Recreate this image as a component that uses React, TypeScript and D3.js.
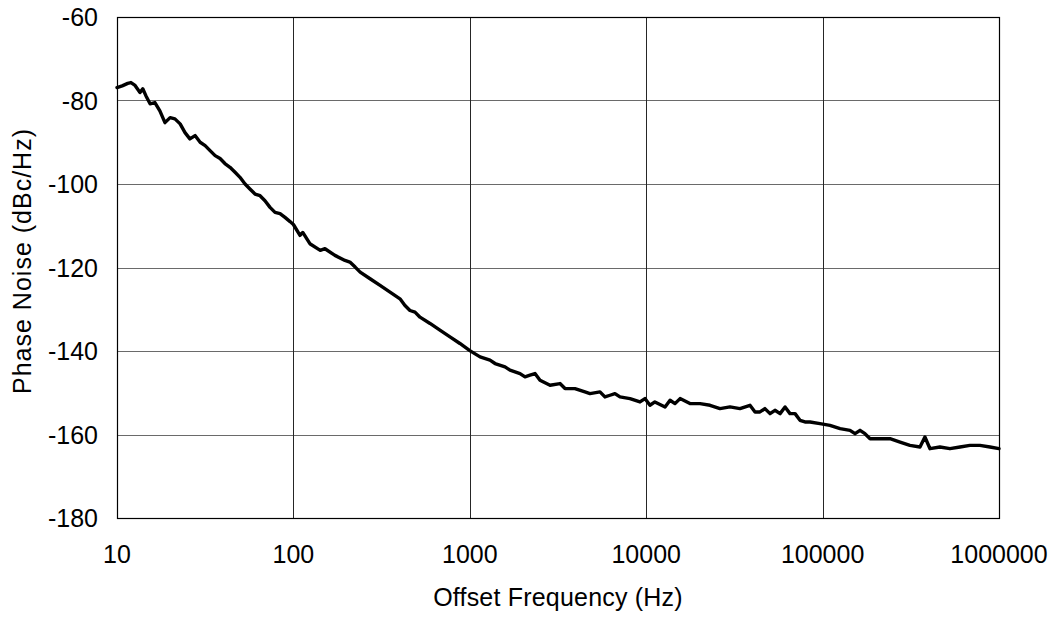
import React from 'react';
import * as d3 from 'd3';

const freqs = [
  10, 10.7, 11.5, 12.0, 12.6, 13.5, 14.0, 14.6, 15.4, 16.4, 17.5, 18.7, 20.0, 21.3, 22.8, 24.3,
  25.9, 27.7, 29.6, 31.6, 33.7, 36.0, 38.4, 40.9, 43.7, 46.7, 49.8, 53.2, 56.7, 60.6, 64.7, 69.0,
  73.7, 78.7, 84.0, 89.6, 95.7, 100, 109, 113, 124, 142, 151, 172, 196, 209, 224, 239, 272, 310,
  353, 402, 429, 458, 489, 522, 595, 677, 772, 879, 1000, 1143, 1302, 1390, 1584, 1690, 1926,
  2056, 2194, 2342, 2500, 2850, 3245, 3465, 3945, 4495, 4800, 5470, 5835, 6235, 6650, 7100,
  8090, 9220, 9840, 10500, 11200, 12790, 13650, 14560, 15560, 17700, 20200, 23000, 26200,
  29850, 34000, 38750, 41400, 44150, 47100, 50350, 53700, 57400, 61250, 65350, 69800, 74450,
  79450, 84900, 96600, 110100, 125600, 143000, 152700, 163000, 173800, 185800, 211500, 241000,
  274800, 312600, 356500, 380200, 406400, 462400, 527200, 601200, 684000, 779800, 889200, 1000000,
];
const noise = [
  -76.9, -76.5, -75.9, -75.7, -76.3, -78.1, -77.2, -78.9, -80.8, -80.5, -82.5, -85.3, -84.1, -84.4, -85.6, -87.7,
  -89.2, -88.4, -90.0, -90.8, -92.0, -93.2, -93.9, -95.1, -96.0, -97.2, -98.4, -100.0, -101.2, -102.4, -102.8, -104.0,
  -105.6, -106.8, -107.1, -108.0, -109.0, -109.7, -112.3, -111.6, -114.3, -115.9, -115.5, -117.1, -118.3, -118.7, -119.9, -121.1, -122.7, -124.3,
  -125.9, -127.5, -129.1, -130.3, -130.7, -131.9, -133.4, -135.0, -136.6, -138.2, -139.9, -141.4, -142.2, -143.0, -143.8, -144.6, -145.4,
  -146.2, -145.8, -145.4, -147.0, -148.2, -147.8, -149.0, -149.0, -149.8, -150.2, -149.8, -151.0, -150.6, -150.2, -151.0,
  -151.4, -152.2, -151.4, -153.0, -152.2, -153.4, -151.8, -152.6, -151.4, -152.6, -152.6, -153.0, -153.8,
  -153.4, -153.8, -153.0, -154.6, -154.6, -153.8, -155.0, -154.2, -155.0, -153.4, -155.0, -155.0, -156.6,
  -157.0, -157.0, -157.4, -157.8, -158.6, -159.0, -159.8, -159.0, -159.8, -161.0, -161.0, -161.0,
  -161.8, -162.6, -163.0, -160.6, -163.4, -163.0, -163.4, -163.0, -162.6, -162.6, -163.0, -163.4,
];
const xTicks = [10, 100, 1000, 10000, 100000, 1000000];
const yTicks = [-60, -80, -100, -120, -140, -160, -180];

const W = 1053, H = 619;
const left = 117, right = 999, top = 17, bottom = 518;
const font = '"Liberation Sans", Arial, sans-serif';

const App = () => {
  const x = d3.scaleLog().domain([10, 1000000]).range([left, right]);
  const y = d3.scaleLinear().domain([-180, -60]).range([bottom, top]);
  const pts: [number, number][] = freqs.map((f, i) => [f, noise[i]]);
  const line = d3.line<[number, number]>()
    .x(d => x(d[0]))
    .y(d => y(d[1]));

  return (
    <svg width={W} height={H} style={{ position: 'absolute', left: 0, top: 0, background: '#fff' }}>
      <rect x={0} y={0} width={W} height={H} fill="#fff" />
      {yTicks.slice(1, -1).map(t => (
        <line key={'gy' + t} x1={left} x2={right} y1={Math.round(y(t)) + 0.5} y2={Math.round(y(t)) + 0.5}
          stroke="#6a6a6a" strokeWidth={1} />
      ))}
      {xTicks.slice(1, -1).map(t => (
        <line key={'gx' + t} x1={Math.round(x(t)) + 0.5} x2={Math.round(x(t)) + 0.5} y1={top} y2={bottom}
          stroke="#262626" strokeWidth={1} />
      ))}
      <rect x={left + 0.5} y={top + 0.5} width={right - left} height={bottom - top}
        fill="none" stroke="#000" strokeWidth={1.2} />
      <path d={line(pts) || ''} fill="none" stroke="#000" strokeWidth={3.4}
        strokeLinejoin="round" strokeLinecap="round" />
      {yTicks.map(t => (
        <text key={'ty' + t} x={98} y={y(t) + 9} textAnchor="end"
          style={{ fontFamily: font, fontSize: '25px', fill: '#000' }}>{t}</text>
      ))}
      {xTicks.map(t => (
        <text key={'tx' + t} x={x(t)} y={563} textAnchor="middle"
          style={{ fontFamily: font, fontSize: '25px', fill: '#000' }}>{t}</text>
      ))}
      <text x={(left + right) / 2} y={606} textAnchor="middle"
        style={{ fontFamily: font, fontSize: '25px', fill: '#000', letterSpacing: '0.2px' }}>Offset Frequency (Hz)</text>
      <text transform={'translate(31,' + 261 + ') rotate(-90)'} textAnchor="middle"
        style={{ fontFamily: font, fontSize: '25px', fill: '#000', letterSpacing: '1px' }}>Phase Noise (dBc/Hz)</text>
    </svg>
  );
};

export default App;
